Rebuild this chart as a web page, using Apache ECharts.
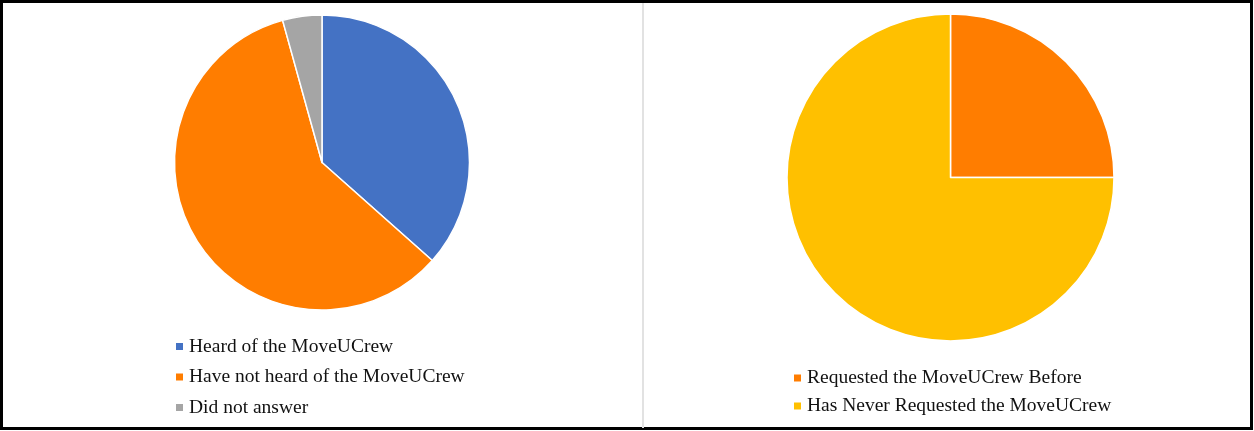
<!DOCTYPE html>
<html>
<head>
<meta charset="utf-8">
<script src="https://cdn.jsdelivr.net/npm/echarts@6/dist/echarts.min.js"></script>
<style>
  html, body { margin: 0; padding: 0; background: #fff; }
  #chart { width: 1254px; height: 431px; }
</style>
</head>
<body>
<div id="chart"></div>
<script>
// Awareness of the MoveUCrew (respondent counts)
const awarenessLabels = ['Heard of the MoveUCrew', 'Have not heard of the MoveUCrew', 'Did not answer'];
const awarenessValues = [34, 55, 4];
const awarenessColors = ['#4472C4', '#FF7D00', '#A5A5A5'];

// Past requests of the MoveUCrew (share of respondents)
const requestLabels = ['Requested the MoveUCrew Before', 'Has Never Requested the MoveUCrew'];
const requestValues = [25, 75];
const requestColors = ['#FF7D00', '#FFC000'];

const chart = echarts.init(document.getElementById('chart'), null, { renderer: 'canvas' });

const legendText = {
  fontFamily: 'Liberation Serif',
  fontSize: 19.5,
  color: '#111',
  lineHeight: 22
};

function pieData(labels, values, colors) {
  return labels.map((name, i) => ({ name, value: values[i], itemStyle: { color: colors[i] } }));
}

chart.setOption({
  animation: false,
  backgroundColor: '#fff',
  graphic: [
    {
      type: 'rect',
      shape: { x: 1.5, y: 1.5, width: 1250, height: 427 },
      style: { fill: 'none', stroke: '#000', lineWidth: 3 },
      z: 100
    },
    {
      type: 'line',
      shape: { x1: 643, y1: 3, x2: 643, y2: 428 },
      style: { stroke: '#e2e2e2', lineWidth: 2 },
      z: 100
    }
  ],
  legend: [
    {
      data: awarenessLabels,
      orient: 'vertical',
      left: 174,
      top: 335.5,
      padding: 0,
      icon: 'rect',
      itemWidth: 9,
      itemHeight: 9,
      itemGap: 8.5,
      selectedMode: false,
      textStyle: legendText
    },
    {
      data: requestLabels,
      orient: 'vertical',
      left: 792,
      top: 367,
      padding: 0,
      icon: 'rect',
      itemWidth: 9,
      itemHeight: 9,
      itemGap: 6,
      selectedMode: false,
      textStyle: legendText
    }
  ],
  series: [
    {
      type: 'pie',
      center: [322, 162.5],
      radius: [0, 147.5],
      startAngle: 90,
      clockwise: true,
      label: { show: false },
      labelLine: { show: false },
      emphasis: { disabled: true },
      itemStyle: { borderColor: '#fff', borderWidth: 1.5 },
      data: pieData(awarenessLabels, awarenessValues, awarenessColors)
    },
    {
      type: 'pie',
      center: [950.5, 177.5],
      radius: [0, 163.5],
      startAngle: 90,
      clockwise: true,
      label: { show: false },
      labelLine: { show: false },
      emphasis: { disabled: true },
      itemStyle: { borderColor: '#fff', borderWidth: 1.5 },
      data: pieData(requestLabels, requestValues, requestColors)
    }
  ]
});
</script>
</body>
</html>
